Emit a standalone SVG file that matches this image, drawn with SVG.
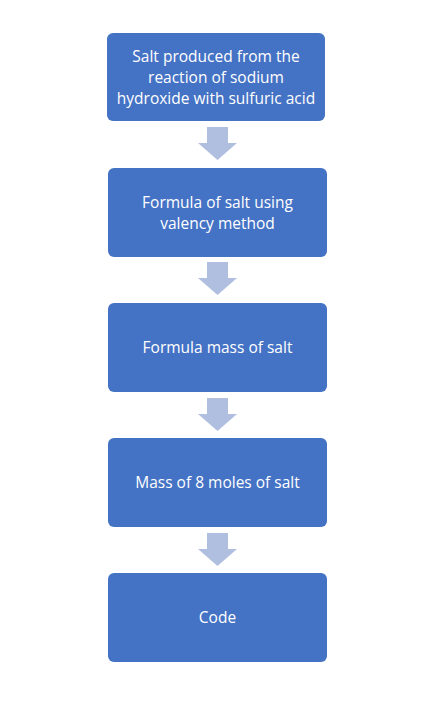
<svg xmlns="http://www.w3.org/2000/svg" width="426" height="704" viewBox="0 0 426 704">
<style>
.box{fill:#4472C4;}
.arr{fill:#B0BFE0;}
text{font-family:"Open Sans","Liberation Sans",Arial,sans-serif;font-size:15.5px;fill:#FFFFFF;text-anchor:middle;dominant-baseline:central;}
</style>
<rect width="426" height="704" fill="#FFFFFF"/>
<g id="connectors">
<path class="arr" d="M207,127 H228 V143 H237 L217.5,160 L198,143 H207 Z"/>
<path class="arr" d="M207,262 H228 V278 H237 L217.5,295 L198,278 H207 Z"/>
<path class="arr" d="M207,398 H228 V414 H237 L217.5,431 L198,414 H207 Z"/>
<path class="arr" d="M207,533 H228 V549 H237 L217.5,566 L198,549 H207 Z"/>
</g>
<g id="node1">
<rect class="box" x="107" y="33" width="218" height="88" rx="6"/>
<text x="216" y="56">Salt produced from the</text>
<text x="216" y="77">reaction of sodium</text>
<text x="216" y="98">hydroxide with sulfuric acid</text>
</g>
<g id="node2">
<rect class="box" x="108" y="168" width="219" height="89" rx="6"/>
<text x="217.5" y="202">Formula of salt using</text>
<text x="217.5" y="223">valency method</text>
</g>
<g id="node3">
<rect class="box" x="108" y="303" width="219" height="89" rx="6"/>
<text x="217.5" y="346.5">Formula mass of salt</text>
</g>
<g id="node4">
<rect class="box" x="108" y="438" width="219" height="89" rx="6"/>
<text x="217.5" y="481.5">Mass of 8 moles of salt</text>
</g>
<g id="node5">
<rect class="box" x="108" y="573" width="219" height="89" rx="6"/>
<text x="217.5" y="616.5">Code</text>
</g>
</svg>
